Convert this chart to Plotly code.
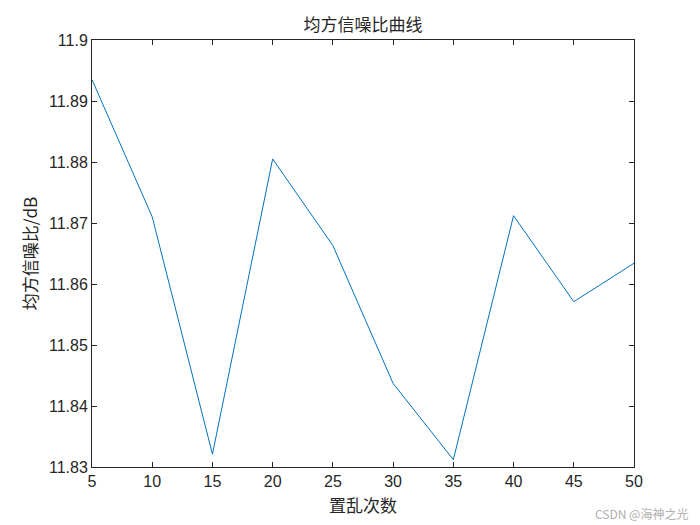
import plotly.graph_objs as go

# data
scramble_counts = [5, 10, 15, 20, 25, 30, 35, 40, 45, 50]
psnr_db = [11.8935, 11.8710, 11.8321, 11.8805, 11.8663, 11.8437, 11.8312, 11.8712, 11.8571, 11.8634]
x_ticks = [5, 10, 15, 20, 25, 30, 35, 40, 45, 50]
y_ticks = [11.83, 11.84, 11.85, 11.86, 11.87, 11.88, 11.89, 11.9]

cjk = "Noto Sans CJK SC"
latin = "Liberation Sans, Arial"
axis_col = "#262626"

fig = go.Figure()
fig.add_trace(go.Scatter(
    x=scramble_counts, y=psnr_db, mode="lines",
    line=dict(color="#0072BD", width=1),
    showlegend=False,
))

axis_style = dict(
    showline=True, linecolor=axis_col, linewidth=1, mirror="ticks",
    ticks="inside", ticklen=5, tickcolor=axis_col, tickwidth=1,
    showgrid=False, zeroline=False,
    tickfont=dict(family=latin, size=16, color=axis_col),
)

# the page body adds ~8px offset, so margins are shifted to compensate
fig.update_layout(
    width=700, height=525,
    paper_bgcolor="white", plot_bgcolor="white",
    margin=dict(l=84, r=74, t=32, b=66),
    title=dict(text="均方信噪比曲线", xref="paper", x=0.5, xanchor="center", y=0.968, yanchor="middle",
               font=dict(family=cjk, size=17, color=axis_col)),
    xaxis=dict(axis_style, range=[5, 50], tickvals=x_ticks,
               title=dict(text="置乱次数", font=dict(family=cjk, size=17, color=axis_col), standoff=10)),
    yaxis=dict(axis_style, range=[11.83, 11.9], tickvals=y_ticks,
               ticktext=[f"{v:g}" for v in y_ticks],
               title=dict(text="均方信噪比/dB", font=dict(family=cjk, size=17, color=axis_col), standoff=6)),
    annotations=[dict(text="CSDN @海神之光", x=1.0, y=-0.108, xref="paper", yref="paper",
                      xanchor="right", yanchor="middle", showarrow=False, xshift=56,
                      font=dict(family=cjk, size=12, color="#b0b0b0"))],
)

fig.write_html("out.html")
